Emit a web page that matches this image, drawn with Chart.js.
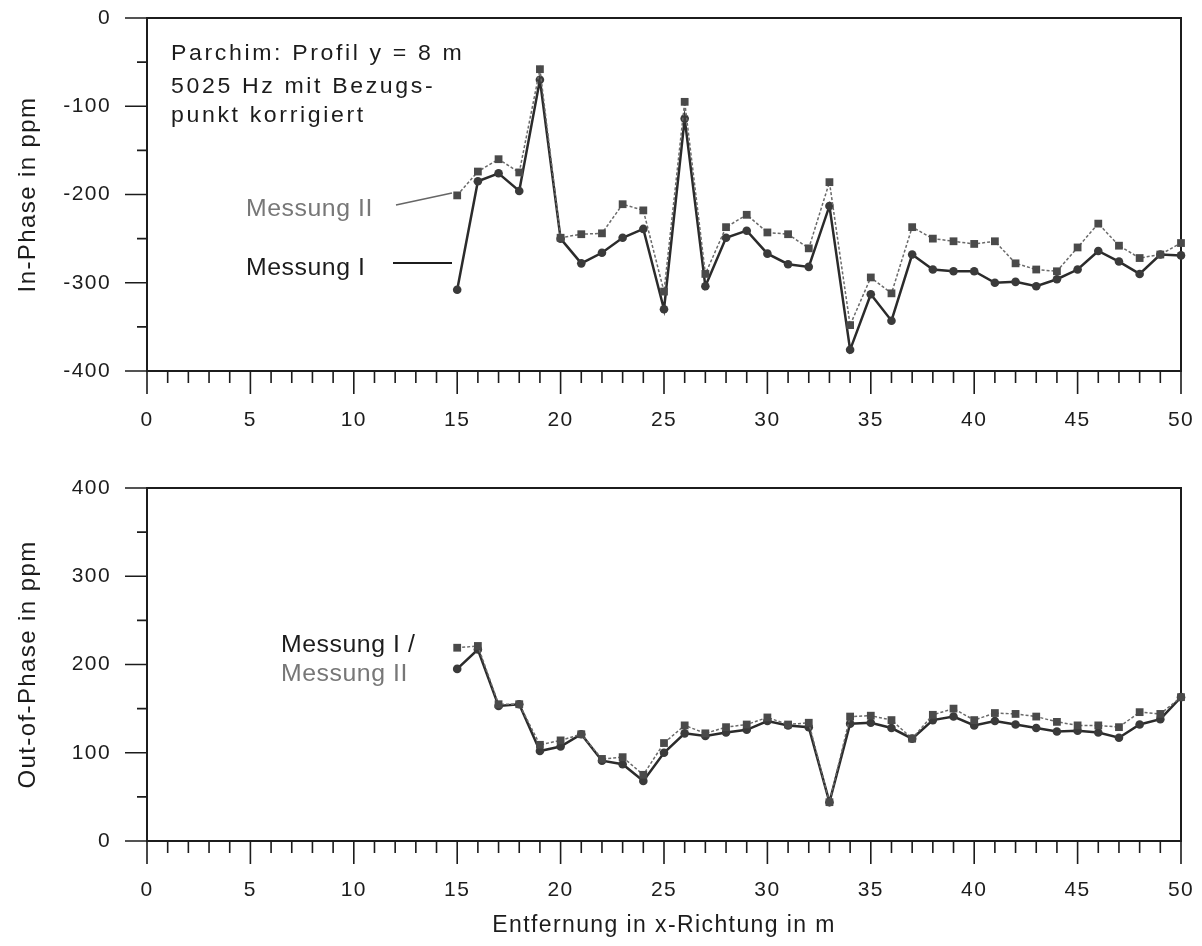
<!DOCTYPE html>
<html>
<head>
<meta charset="utf-8">
<script src="https://cdn.jsdelivr.net/npm/chart.js@4.4.1/dist/chart.umd.min.js"></script>
<style>
body{margin:0;background:#fff;}
canvas{position:absolute;left:0;}
#oben{top:0;}
#unten{top:470px;}
</style>
</head>
<body>
<canvas id="oben" width="1202" height="450"></canvas>
<canvas id="unten" width="1202" height="476"></canvas>
<script>
// Messpunkte entlang des Profils (m)
const entfernung = [15,16,17,18,19,20,21,22,23,24,25,26,27,28,29,30,31,32,33,34,35,36,37,38,39,40,41,42,43,44,45,46,47,48,49,50];

// In-Phase (ppm)
const inPhaseI  = [-308,-185,-176,-196,-70,-250,-278,-266,-249,-239,-330,-114,-304,-249,-241,-267,-279,-282,-213,-376,-313,-343,-268,-285,-287,-287,-300,-299,-304,-296,-285,-264,-276,-290,-268,-269];
const inPhaseII = [-201,-174,-160,-175,-58,-249,-245,-244,-211,-218,-310,-95,-290,-237,-223,-243,-245,-261,-186,-348,-294,-312,-237,-250,-253,-256,-253,-278,-285,-287,-260,-233,-258,-272,-268,-255];

// Out-of-Phase (ppm)
const outPhaseI  = [195,217,153,155,102,107,121,91,87,68,100,122,119,123,126,136,131,129,44,133,134,128,116,137,141,131,136,132,128,124,125,123,117,132,138,163];
const outPhaseII = [219,221,155,155,109,114,121,93,95,75,111,131,122,129,132,140,132,134,44,141,142,137,116,143,150,137,145,144,141,135,131,131,129,146,144,163];

// Achsenbeschriftung
const xTicks = [0,5,10,15,20,25,30,35,40,45,50];
const yTicksOben = [-400,-300,-200,-100,0];
const yTicksUnten = [0,100,200,300,400];

const tinte = '#1c1c1c';
const grau = '#777';
const schrift = "'Liberation Sans', Arial, sans-serif";

Chart.defaults.font.family = schrift;
Chart.defaults.color = tinte;

function punkte(werte) {
  return entfernung.map((x, i) => ({x: x, y: werte[i]}));
}

// Abstand der Buchstaben wie im Scan
const sperren = {
  id: 'sperren',
  beforeLayout(chart) { chart.ctx.letterSpacing = '1.4px'; },
  beforeDraw(chart) { chart.ctx.letterSpacing = '1.4px'; }
};

// Rahmen und Teilstriche
const rahmen = {
  id: 'rahmen',
  beforeDatasetsDraw(chart) {
    const {ctx, chartArea: a} = chart;
    const x = chart.scales.x, y = chart.scales.y;
    ctx.save();
    ctx.strokeStyle = tinte;
    ctx.lineWidth = 2;
    ctx.strokeRect(a.left, a.top, a.right - a.left, a.bottom - a.top);
    ctx.lineWidth = 1.6;
    ctx.beginPath();
    for (let v = x.min; v <= x.max; v++) {
      const px = x.getPixelForValue(v);
      ctx.moveTo(px, a.bottom);
      ctx.lineTo(px, a.bottom + (v % 5 === 0 ? 23 : 12));
    }
    for (let v = y.min; v <= y.max; v += 50) {
      const py = y.getPixelForValue(v);
      ctx.moveTo(a.left, py);
      ctx.lineTo(a.left - (v % 100 === 0 ? 22 : 10), py);
    }
    ctx.stroke();
    ctx.restore();
  }
};

// freie Texte und Hinweislinien
const beschriftung = {
  id: 'beschriftung',
  afterDraw(chart, args, opts) {
    const ctx = chart.ctx;
    ctx.save();
    (opts.linien || []).forEach(l => {
      ctx.strokeStyle = l.farbe;
      ctx.lineWidth = l.breite;
      ctx.beginPath();
      ctx.moveTo(l.x1, l.y1);
      ctx.lineTo(l.x2, l.y2);
      ctx.stroke();
    });
    ctx.textAlign = 'left';
    ctx.textBaseline = 'alphabetic';
    (opts.texte || []).forEach(t => {
      ctx.save();
      ctx.font = t.size + 'px ' + schrift;
      ctx.letterSpacing = t.ls + 'px';
      ctx.fillStyle = t.farbe;
      ctx.translate(t.x, t.y);
      ctx.scale(t.sx, 1);
      ctx.fillText(t.text, 0, 0);
      ctx.restore();
    });
    ctx.restore();
  }
};

function reihen(werteI, werteII) {
  return [
    {
      label: 'Messung II',
      data: punkte(werteII),
      borderColor: '#6a6a6a',
      borderWidth: 1.5,
      borderDash: [3, 2],
      pointStyle: 'rect',
      pointRadius: 5.5,
      pointBackgroundColor: '#4a4a4a',
      pointBorderWidth: 0,
      tension: 0,
      clip: false
    },
    {
      label: 'Messung I',
      data: punkte(werteI),
      borderColor: '#2b2b2b',
      borderWidth: 2.5,
      pointStyle: 'circle',
      pointRadius: 4.3,
      pointBackgroundColor: '#3a3a3a',
      pointBorderWidth: 0,
      tension: 0,
      clip: false
    }
  ];
}

function optionen(yMin, yMax, yTicks, yTitel, xHoehe, mitXTitel, texte, linien) {
  return {
    responsive: false,
    animation: false,
    layout: {padding: {left: 0, right: 21, top: 18, bottom: 0}},
    plugins: {
      legend: {display: false},
      tooltip: {enabled: false},
      beschriftung: {texte: texte, linien: linien}
    },
    scales: {
      x: {
        type: 'linear',
        min: 0,
        max: 50,
        grid: {color: 'transparent', drawOnChartArea: false, drawTicks: true, tickLength: 37},
        border: {display: false},
        afterBuildTicks: s => { s.ticks = xTicks.map(v => ({value: v})); },
        afterFit: s => { s.height = xHoehe; },
        ticks: {font: {size: 21}, padding: 0, color: tinte, autoSkip: false, maxRotation: 0},
        title: {
          display: mitXTitel,
          text: 'Entfernung in x-Richtung in m',
          font: {size: 23},
          color: tinte,
          padding: {top: 0, bottom: 7}
        }
      },
      y: {
        min: yMin,
        max: yMax,
        grid: {color: 'transparent', drawOnChartArea: false, drawTicks: true, tickLength: 36},
        border: {display: false},
        afterBuildTicks: s => { s.ticks = yTicks.map(v => ({value: v})); },
        afterFit: s => { s.width = 147; },
        ticks: {font: {size: 21}, padding: 0, color: tinte},
        title: {
          display: true,
          text: yTitel,
          font: {size: 24},
          color: tinte,
          padding: {top: 14, bottom: 0}
        }
      }
    }
  };
}

new Chart(document.getElementById('oben'), {
  type: 'line',
  data: {datasets: reihen(inPhaseI, inPhaseII)},
  options: optionen(-400, 0, yTicksOben, 'In-Phase in ppm', 79, false,
    [
      {text: 'Parchim: Profil y = 8 m', x: 171, y: 60, size: 22, ls: 2.5, sx: 1.05, farbe: tinte},
      {text: '5025 Hz mit Bezugs-', x: 171, y: 93, size: 22, ls: 2.5, sx: 1.05, farbe: tinte},
      {text: 'punkt korrigiert', x: 171, y: 122, size: 22, ls: 2.5, sx: 1.05, farbe: tinte},
      {text: 'Messung II', x: 246, y: 216, size: 23, ls: 0.5, sx: 1.08, farbe: grau},
      {text: 'Messung I', x: 246, y: 275, size: 23, ls: 0.5, sx: 1.08, farbe: tinte}
    ],
    [
      {x1: 396, y1: 205, x2: 452, y2: 193, farbe: '#666', breite: 1.5},
      {x1: 393, y1: 263, x2: 452, y2: 263, farbe: tinte, breite: 2.2}
    ]),
  plugins: [sperren, rahmen, beschriftung]
});

new Chart(document.getElementById('unten'), {
  type: 'line',
  data: {datasets: reihen(outPhaseI, outPhaseII)},
  options: optionen(0, 400, yTicksUnten, 'Out-of-Phase in ppm', 105, true,
    [
      {text: 'Messung I /', x: 281, y: 182, size: 23, ls: 0.5, sx: 1.08, farbe: tinte},
      {text: 'Messung II', x: 281, y: 211, size: 23, ls: 0.5, sx: 1.08, farbe: grau}
    ],
    []),
  plugins: [sperren, rahmen, beschriftung]
});
</script>
</body>
</html>
